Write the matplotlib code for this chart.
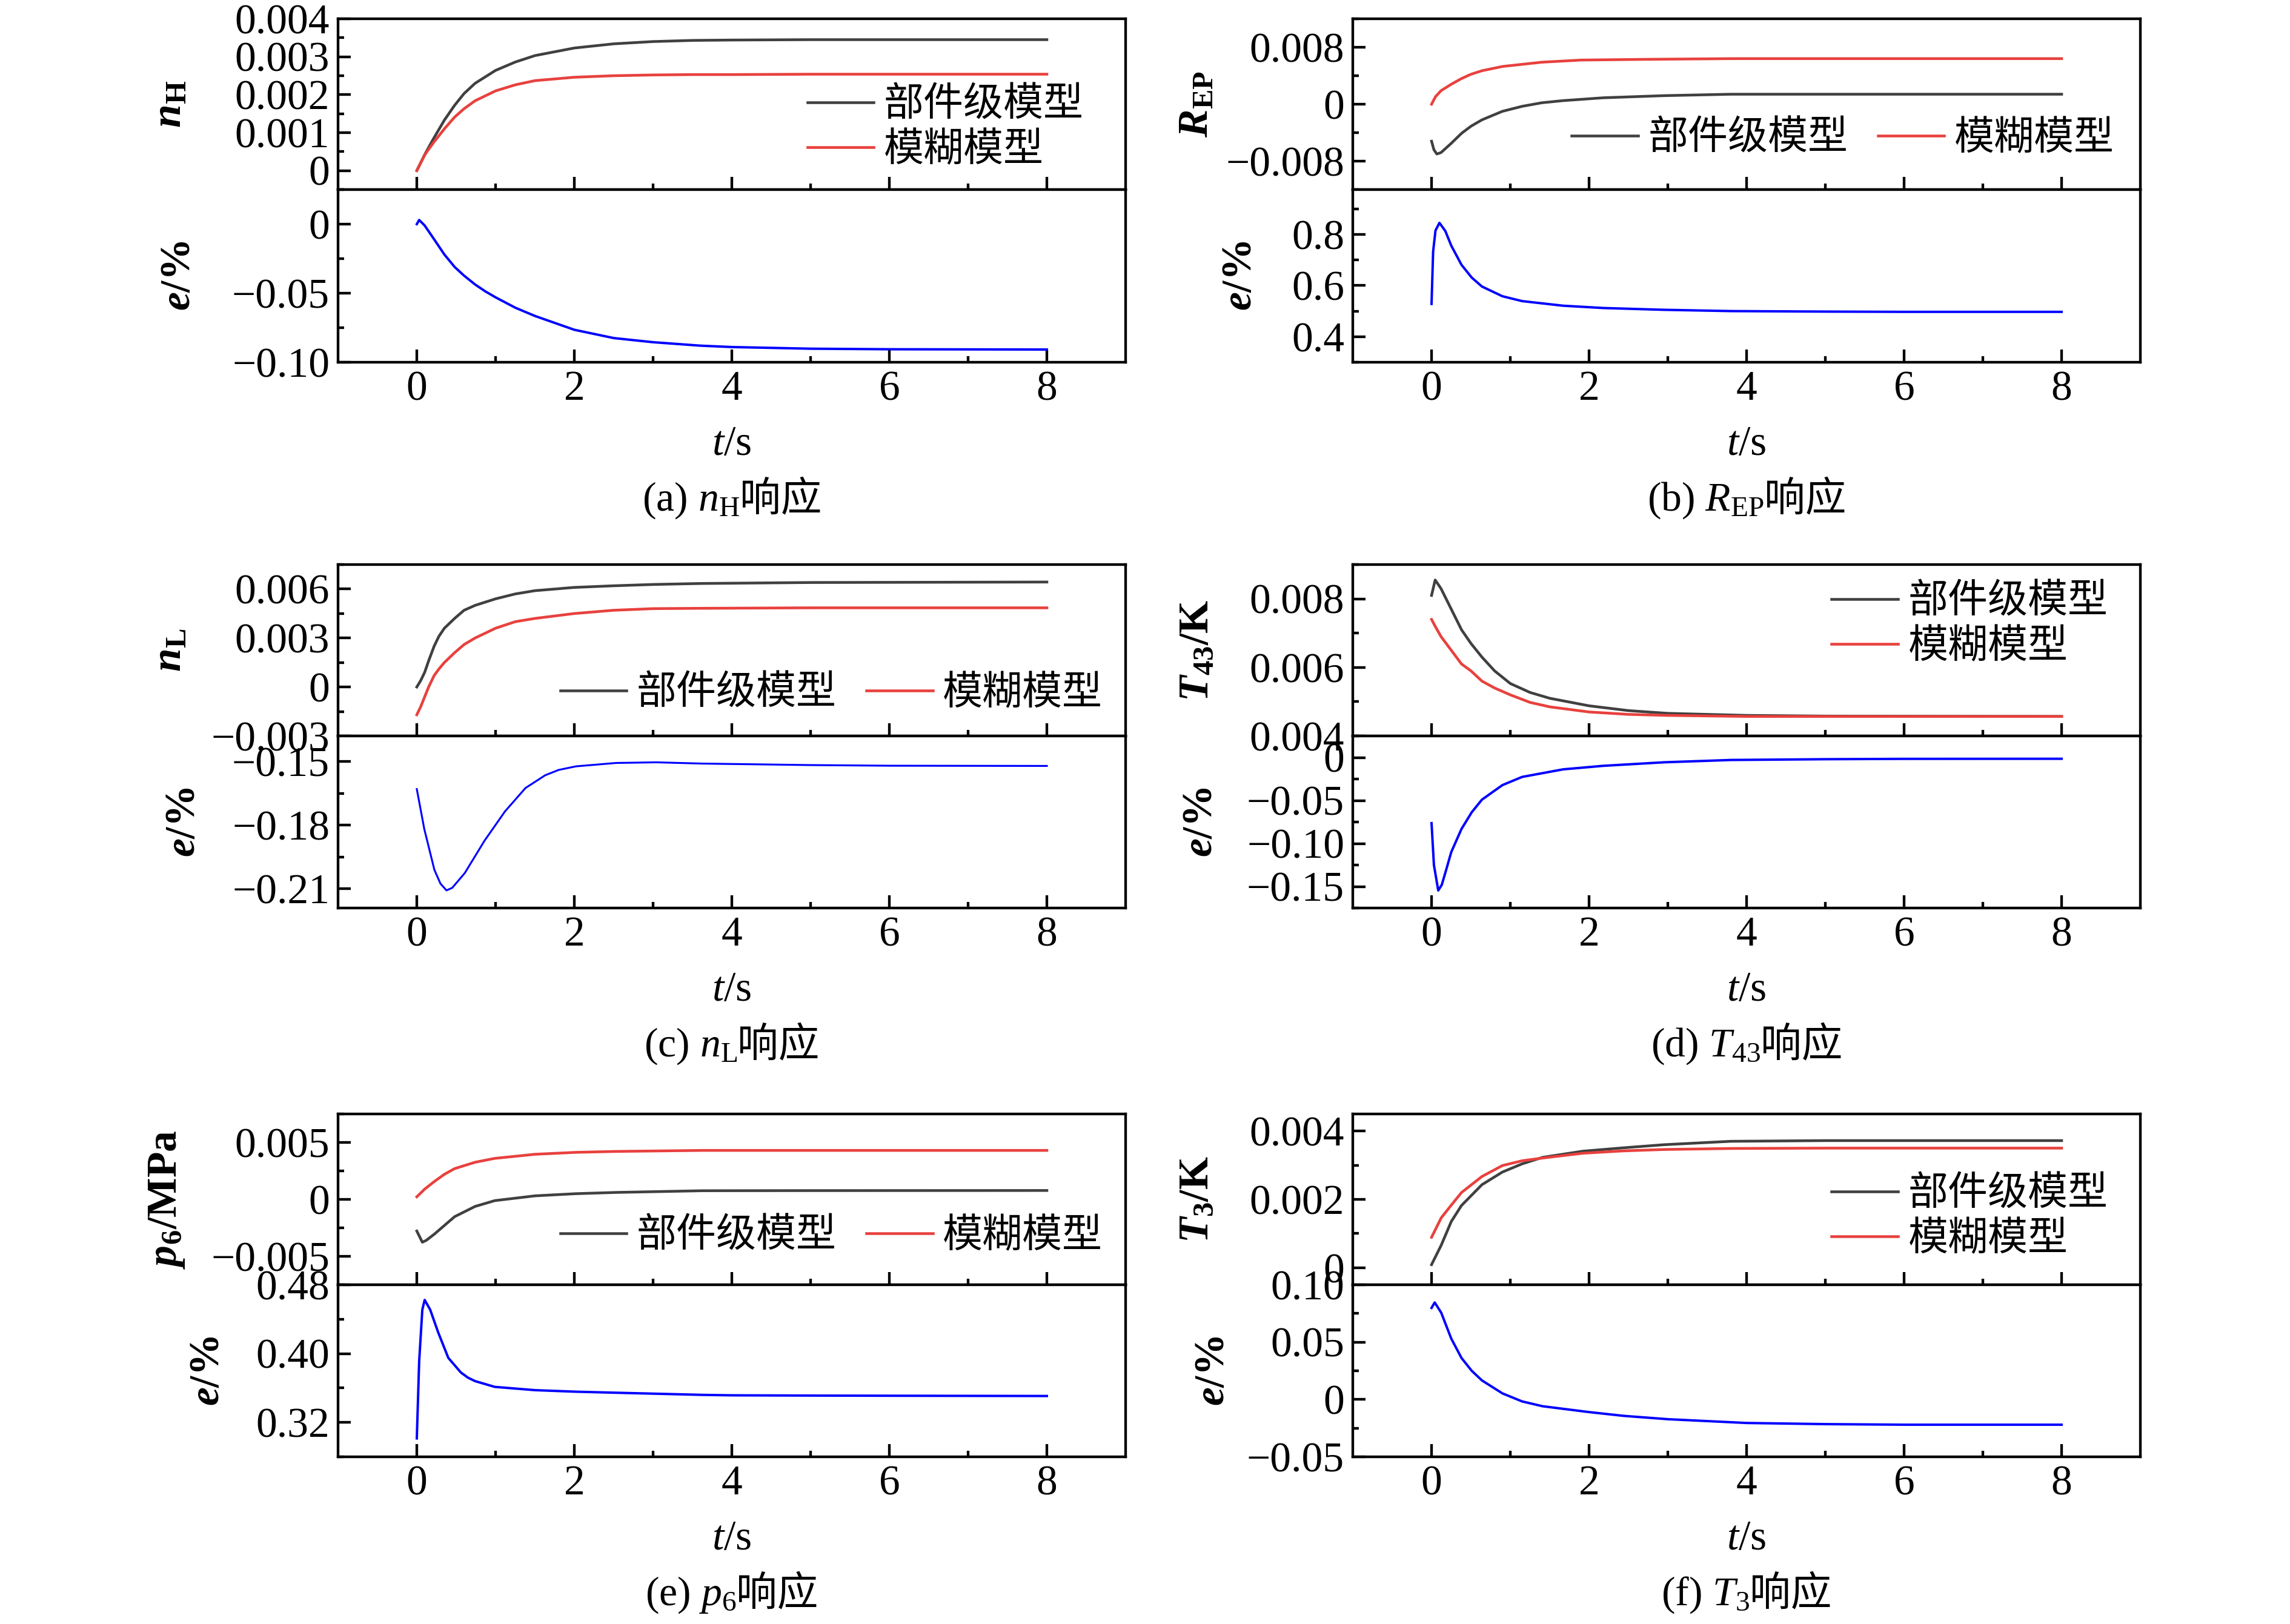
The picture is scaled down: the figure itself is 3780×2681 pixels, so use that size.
import numpy as np
import matplotlib
matplotlib.use("Agg")
from matplotlib import pyplot as plt
from matplotlib.ticker import MultipleLocator, FixedLocator

plt.rcParams['font.family'] = ['Liberation Serif', 'Noto Sans CJK SC']
plt.rcParams['mathtext.fontset'] = 'custom'
plt.rcParams['mathtext.rm'] = 'Liberation Serif'
plt.rcParams['mathtext.it'] = 'Liberation Serif:italic'
plt.rcParams['mathtext.bf'] = 'Liberation Serif:bold'
plt.rcParams['mathtext.bfit'] = 'Liberation Serif:bold:italic'
plt.rcParams['axes.unicode_minus'] = True
plt.rcParams['font.size'] = 20
plt.rcParams['axes.linewidth'] = 1.25
for ax_ in ('xtick', 'ytick'):
    plt.rcParams[ax_ + '.direction'] = 'in'
    plt.rcParams[ax_ + '.major.size'] = 6
    plt.rcParams[ax_ + '.minor.size'] = 3
    plt.rcParams[ax_ + '.major.width'] = 1.25
    plt.rcParams[ax_ + '.minor.width'] = 1.25
plt.rcParams['xtick.major.pad'] = 4
plt.rcParams['ytick.major.pad'] = 4

CJK = 'Noto Sans CJK SC'
LEG = ['部件级模型', '模糊模型']
C_COMP = '#404040'
C_FUZZ = '#e8413e'
C_ERR = '#0000ff'

# ---------------- data ----------------
# (a) n_H
t_a = [0, 0.1, 0.15, 0.22, 0.35, 0.48, 0.6, 0.74, 1.0, 1.25, 1.5, 2.0, 2.5, 3.0, 3.5, 4, 5, 6, 8]
nh_comp = [0, 0.00042, 0.00061, 0.00087, 0.00133, 0.00172, 0.00203, 0.0023, 0.00264, 0.00286,
           0.00303, 0.00323, 0.00334, 0.0034, 0.00343, 0.00344, 0.00345, 0.00345, 0.00345]
nh_fuzz = [0, 0.00041, 0.00056, 0.00076, 0.0011, 0.00141, 0.00163, 0.00184, 0.0021, 0.00226,
           0.00237, 0.00246, 0.0025, 0.00252, 0.00253, 0.00253, 0.00254, 0.00254, 0.00254]
t_a_err = [0, 0.03, 0.1, 0.22, 0.35, 0.48, 0.6, 0.74, 0.87, 1.0, 1.25, 1.5, 2.0, 2.5, 3.0,
           3.6, 4, 5, 6, 8]
nh_err = [0, 0.003, -0.001, -0.011, -0.022, -0.031, -0.0373, -0.0437, -0.0487, -0.053,
          -0.0605, -0.0665, -0.0765, -0.0825, -0.0855, -0.088, -0.089, -0.0902, -0.0906, -0.0908]

# (b) R_EP
t_b = [0, 0.03, 0.067, 0.12, 0.25, 0.38, 0.5, 0.64, 0.9, 1.15, 1.4, 1.67, 2.18, 2.95, 3.8, 5, 8]
rep_comp = [-0.0052, -0.0064, -0.0070, -0.0068, -0.0055, -0.0041, -0.0031, -0.0022, -0.0010,
            -0.0003, 0.0002, 0.0005, 0.0009, 0.0012, 0.0014, 0.0014, 0.0014]
t_b2 = [0, 0.05, 0.12, 0.25, 0.38, 0.5, 0.64, 0.9, 1.15, 1.4, 1.9, 2.7, 3.8, 5, 8]
rep_fuzz = [0, 0.00105, 0.0019, 0.0028, 0.0036, 0.0042, 0.0047, 0.0053, 0.0056, 0.0059,
            0.0062, 0.0063, 0.0064, 0.0064, 0.0064]
t_b_err = [0, 0.02, 0.05, 0.1, 0.175, 0.25, 0.38, 0.51, 0.64, 0.9, 1.15, 1.67, 2.18, 2.95,
           3.8, 5, 6, 8]
rep_err = [0.528, 0.733, 0.815, 0.845, 0.813, 0.756, 0.681, 0.631, 0.596, 0.558, 0.539,
           0.521, 0.512, 0.505, 0.500, 0.498, 0.497, 0.497]

# (c) n_L
t_c = [0, 0.05, 0.1, 0.15, 0.22, 0.28, 0.35, 0.48, 0.6, 0.74, 1.0, 1.25, 1.5, 2, 2.5, 3, 3.6, 5, 8]
nl_comp = [0, 0.0004, 0.0009, 0.0016, 0.0025, 0.0031, 0.0036, 0.0042, 0.0047, 0.0050, 0.0054,
           0.0057, 0.0059, 0.0061, 0.0062, 0.00628, 0.00634, 0.0064, 0.00643]
nl_fuzz = [-0.0017, -0.0012, -0.0006, 0.0000, 0.0007, 0.0011, 0.0015, 0.0021, 0.0026, 0.0030,
           0.0036, 0.0040, 0.0042, 0.0045, 0.0047, 0.0048, 0.00482, 0.00485, 0.00485]
t_c_err = [0, 0.095, 0.223, 0.3, 0.377, 0.45, 0.61, 0.86, 1.12, 1.38, 1.63, 1.8, 2.02, 2.53,
           3.04, 3.63, 5, 6, 8]
nl_err = [-0.163, -0.1818, -0.201, -0.2075, -0.2107, -0.2095, -0.2025, -0.1873, -0.1735,
          -0.1625, -0.1565, -0.1540, -0.1523, -0.1507, -0.1504, -0.151, -0.1517, -0.152, -0.1521]

# (d) T43
t_d = [0, 0.046, 0.12, 0.25, 0.38, 0.5, 0.64, 0.8, 1.0, 1.25, 1.5, 2.0, 2.5, 3, 4, 5, 8]
t43_comp = [0.0081, 0.00855, 0.0083, 0.0077, 0.0071, 0.0067, 0.0063, 0.0059, 0.00553, 0.00527,
            0.0051, 0.00488, 0.00474, 0.00466, 0.0046, 0.00458, 0.00457]
t43_fuzz = [0.0074, 0.0072, 0.0069, 0.0065, 0.0061, 0.0059, 0.0056, 0.0054, 0.0052, 0.00498,
            0.00485, 0.0047, 0.00463, 0.0046, 0.00457, 0.00457, 0.00457]
t_d_err = [0, 0.03, 0.085, 0.13, 0.175, 0.25, 0.38, 0.51, 0.64, 0.9, 1.15, 1.67, 2.18, 2.95,
           3.8, 5, 6, 8]
t43_err = [-0.0763, -0.125, -0.1546, -0.148, -0.134, -0.110, -0.0831, -0.0637, -0.049,
           -0.0321, -0.0226, -0.0138, -0.0097, -0.0056, -0.0029, -0.002, -0.0016, -0.0015]

# (e) p6
t_e = [0, 0.07, 0.12, 0.223, 0.48, 0.74, 0.99, 1.5, 2.02, 2.53, 3.63, 5, 8]
p6_comp = [-0.00278, -0.00376, -0.0036, -0.00305, -0.00152, -0.00062, -0.00011, 0.00031,
           0.0005, 0.00061, 0.00076, 0.00077, 0.00078]
t_e2 = [0, 0.1, 0.223, 0.35, 0.48, 0.74, 0.99, 1.5, 2.02, 2.53, 3.63, 5, 8]
p6_fuzz = [0.000225, 0.0009, 0.00157, 0.0022, 0.0027, 0.00326, 0.0036, 0.00396, 0.00413,
           0.00421, 0.0043, 0.0043, 0.0043]
t_e_err = [0, 0.03, 0.07, 0.1, 0.17, 0.27, 0.4, 0.56, 0.65, 0.74, 0.99, 1.5, 2.02, 2.53, 3.63,
           4, 5, 6, 8]
p6_err = [0.3014, 0.391, 0.451, 0.4624, 0.451, 0.425, 0.395, 0.378, 0.372, 0.368, 0.3613,
          0.3575, 0.3557, 0.3545, 0.352, 0.3515, 0.3512, 0.351, 0.3507]

# (f) T3
t_f = [0, 0.123, 0.25, 0.38, 0.64, 0.9, 1.15, 1.41, 1.92, 2.44, 2.95, 3.8, 5, 8]
t3_comp = [0.00009, 0.00066, 0.00135, 0.00182, 0.00243, 0.0028, 0.00304, 0.00323, 0.00341,
           0.00351, 0.0036, 0.0037, 0.00372, 0.00372]
t3_fuzz = [0.00089, 0.00146, 0.00183, 0.0022, 0.00267, 0.00299, 0.00313, 0.00321, 0.00335,
           0.00342, 0.00346, 0.00349, 0.0035, 0.0035]
t_f_err = [0, 0.04, 0.123, 0.25, 0.38, 0.51, 0.64, 0.9, 1.15, 1.41, 2.0, 2.44, 3.0, 4, 5, 6, 8]
t3_err = [0.0798, 0.0846, 0.0756, 0.0531, 0.0362, 0.025, 0.0166, 0.0053, -0.0017, -0.0059,
          -0.011, -0.0143, -0.0172, -0.0205, -0.0215, -0.022, -0.022]

# ticks / tick labels
x_ticks = [0, 2, 4, 6, 8]
x_labels = ['0', '2', '4', '6', '8']
yt_a = [0, 0.001, 0.002, 0.003, 0.004]
yl_a = ['0', '0.001', '0.002', '0.003', '0.004']
yt_a_err = [-0.10, -0.05, 0]
yl_a_err = ['\u22120.10', '\u22120.05', '0']
yt_b = [-0.008, 0, 0.008]
yl_b = ['\u22120.008', '0', '0.008']
yt_b_err = [0.4, 0.6, 0.8]
yl_b_err = ['0.4', '0.6', '0.8']
yt_c = [-0.003, 0, 0.003, 0.006]
yl_c = ['\u22120.003', '0', '0.003', '0.006']
yt_c_err = [-0.21, -0.18, -0.15]
yl_c_err = ['\u22120.21', '\u22120.18', '\u22120.15']
yt_d = [0.004, 0.006, 0.008]
yl_d = ['0.004', '0.006', '0.008']
yt_d_err = [-0.15, -0.10, -0.05, 0]
yl_d_err = ['\u22120.15', '\u22120.10', '\u22120.05', '0']
yt_e = [-0.005, 0, 0.005]
yl_e = ['\u22120.005', '0', '0.005']
yt_e_err = [0.32, 0.40, 0.48]
yl_e_err = ['0.32', '0.40', '0.48']
yt_f = [0, 0.002, 0.004]
yl_f = ['0', '0.002', '0.004']
yt_f_err = [-0.05, 0, 0.05, 0.10]
yl_f_err = ['\u22120.05', '0', '0.05', '0.10']

W, H = 3780, 2681
fig = plt.figure(figsize=(W / 250, H / 250), dpi=250)

COL_X = [(558, 1300), (2233, 1300)]          # left px, width px
ROW_Y = [(31, 313, 598), (932, 1215, 1499), (1839, 2121, 2405)]


def make_axes(col, row):
    x0, w = COL_X[col]
    top, mid, bot = ROW_Y[row]
    a1 = fig.add_axes([x0 / W, 1 - mid / H, w / W, (mid - top) / H])
    a2 = fig.add_axes([x0 / W, 1 - bot / H, w / W, (bot - mid) / H])
    for a in (a1, a2):
        a.set_xlim(-1, 9)
        a.xaxis.set_major_locator(FixedLocator(x_ticks))
        a.xaxis.set_minor_locator(FixedLocator([1, 3, 5, 7]))
        a.tick_params(which='both', top=False, right=False)
    a2.set_xticks(x_ticks, x_labels)
    a1.tick_params(labelbottom=False)
    return a1, a2


def style_y(a, lim, ticks, labels, minor, ylabel, lab_x):
    a.set_ylim(*lim)
    a.set_yticks(ticks, labels)
    a.yaxis.set_minor_locator(MultipleLocator(minor))
    a.set_ylabel(ylabel, fontsize=20)
    a.yaxis.set_label_coords(lab_x, 0.5)


def caption(col, y_base, latex_part, cjk_part):
    x0, w = COL_X[col]
    cx = x0 + w / 2
    r = fig.canvas.get_renderer()
    t1 = fig.text(0, 1 - y_base / H, latex_part, fontsize=19.5, va='baseline', ha='left')
    t2 = fig.text(0, 1 - y_base / H, cjk_part, fontsize=19.5, family=CJK, va='baseline', ha='left')
    w1 = t1.get_window_extent(r).width
    w2 = t2.get_window_extent(r).width
    start = cx - (w1 + w2) / 2
    t1.set_x(start / W)
    t2.set_x((start + w1) / W)


def xlabel(col, y_base):
    x0, w = COL_X[col]
    fig.text((x0 + w / 2) / W, 1 - y_base / H, r'$\mathit{t}\mathrm{/s}$', fontsize=20,
             ha='center', va='baseline')


def legend(a, ncol, x, y):
    a.legend(LEG, loc='center left', bbox_to_anchor=(x, y), ncol=ncol, frameon=False,
             prop={'family': CJK, 'size': 19}, borderpad=0, borderaxespad=0,
             handlelength=1.66, handletextpad=0.25, columnspacing=0.75, labelspacing=0.1)


ERR_LABEL = r'$\mathbfit{e}\mathbf{/\%}$'
LW = 1.3
LW_E = 1.15

# (a)
a1, a2 = make_axes(0, 0)
a1.plot(t_a, nh_comp, color=C_COMP, lw=LW)
a1.plot(t_a, nh_fuzz, color=C_FUZZ, lw=LW)
a2.plot(t_a_err, nh_err, color=C_ERR, lw=LW_E)
style_y(a1, (-0.0005, 0.004), yt_a, yl_a, 0.0005, r'$\mathbfit{n}_{\mathbf{H}}$', -0.188)
style_y(a2, (-0.10, 0.025), yt_a_err, yl_a_err, 0.025, ERR_LABEL, -0.177)
legend(a1, 1, 0.596, 0.365)

# (b)
b1, b2 = make_axes(1, 0)
b1.plot(t_b, rep_comp, color=C_COMP, lw=LW)
b1.plot(t_b2, rep_fuzz, color=C_FUZZ, lw=LW)
b2.plot(t_b_err, rep_err, color=C_ERR, lw=LW_E)
style_y(b1, (-0.012, 0.012), yt_b, yl_b, 0.004, r'$\mathbfit{R}_{\mathbf{EP}}$', -0.173)
style_y(b2, (0.3, 0.975), yt_b_err, yl_b_err, 0.1, ERR_LABEL, -0.118)
legend(b1, 2, 0.278, 0.301)

# (c)
c1, c2 = make_axes(0, 1)
c1.plot(t_c, nl_comp, color=C_COMP, lw=LW)
c1.plot(t_c, nl_fuzz, color=C_FUZZ, lw=LW)
c2.plot(t_c_err, nl_err, color=C_ERR, lw=0.9)
style_y(c1, (-0.003, 0.0075), yt_c, yl_c, 0.0015, r'$\mathbfit{n}_{\mathbf{L}}$', -0.188)
style_y(c2, (-0.219, -0.138), yt_c_err, yl_c_err, 0.015, ERR_LABEL, -0.171)
legend(c1, 2, 0.282, 0.25)

# (d)
d1, d2 = make_axes(1, 1)
d1.plot(t_d, t43_comp, color=C_COMP, lw=LW)
d1.plot(t_d, t43_fuzz, color=C_FUZZ, lw=LW)
d2.plot(t_d_err, t43_err, color=C_ERR, lw=LW_E)
style_y(d1, (0.004, 0.009), yt_d, yl_d, 0.001, r'$\mathbfit{T}_{\mathbf{43}}\mathbf{/K}$', -0.173)
style_y(d2, (-0.175, 0.025), yt_d_err, yl_d_err, 0.025, ERR_LABEL, -0.168)
legend(d1, 1, 0.608, 0.654)

# (e)
e1, e2 = make_axes(0, 2)
e1.plot(t_e, p6_comp, color=C_COMP, lw=LW)
e1.plot(t_e2, p6_fuzz, color=C_FUZZ, lw=LW)
e2.plot(t_e_err, p6_err, color=C_ERR, lw=LW_E)
style_y(e1, (-0.0075, 0.0075), yt_e, yl_e, 0.0025, r'$\mathbfit{p}_{\mathbf{6}}\mathbf{/MPa}$', -0.192)
style_y(e2, (0.28, 0.48), yt_e_err, yl_e_err, 0.04, ERR_LABEL, -0.140)
legend(e1, 2, 0.282, 0.287)

# (f)
f1, f2 = make_axes(1, 2)
f1.plot(t_f, t3_comp, color=C_COMP, lw=LW)
f1.plot(t_f, t3_fuzz, color=C_FUZZ, lw=LW)
f2.plot(t_f_err, t3_err, color=C_ERR, lw=LW_E)
style_y(f1, (-0.0005, 0.0045), yt_f, yl_f, 0.001, r'$\mathbfit{T}_{\mathbf{3}}\mathbf{/K}$', -0.173)
style_y(f2, (-0.05, 0.10), yt_f_err, yl_f_err, 0.025, ERR_LABEL, -0.152)
legend(f1, 1, 0.608, 0.40)

# x labels and captions
for col in (0, 1):
    xlabel(col, 751)
    xlabel(col, 1652)
    xlabel(col, 2558)
caption(0, 843, r'(a) $\mathit{n}_{\mathrm{H}}$', '响应')
caption(1, 843, r'(b) $\mathit{R}_{\mathrm{EP}}$', '响应')
caption(0, 1744, r'(c) $\mathit{n}_{\mathrm{L}}$', '响应')
caption(1, 1744, r'(d) $\mathit{T}_{\mathrm{43}}$', '响应')
caption(0, 2650, r'(e) $\mathit{p}_{\mathrm{6}}$', '响应')
caption(1, 2650, r'(f) $\mathit{T}_{\mathrm{3}}$', '响应')

fig.savefig('out.png', dpi=250)
